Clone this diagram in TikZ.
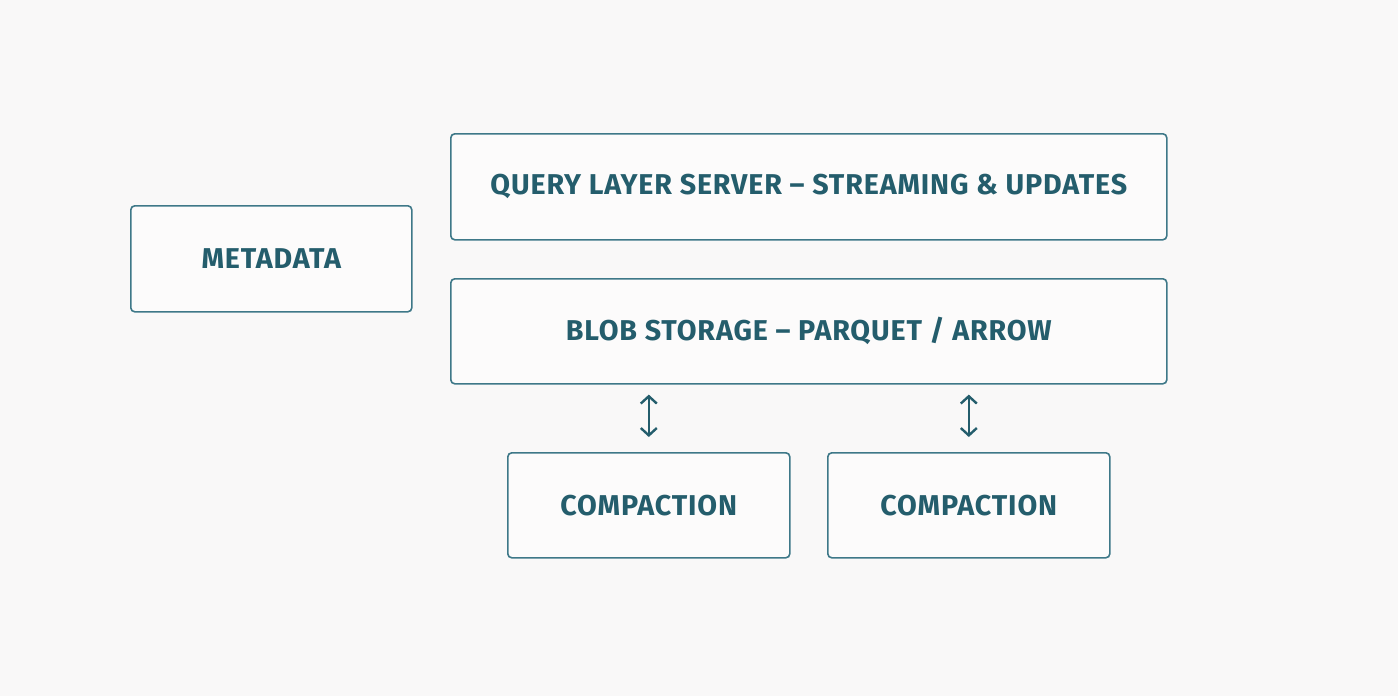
\documentclass[tikz,border=0pt]{standalone}
\usepackage{fontspec}
\setmainfont{Fira Sans}[LetterSpace=3]
\usetikzlibrary{arrows.meta}
\definecolor{bg}{HTML}{F9F8F8}
\definecolor{boxfill}{HTML}{FCFBFB}
\definecolor{edge}{HTML}{3E7888}
\definecolor{ink}{HTML}{245D6C}
\tikzset{
  box/.style={draw=edge, fill=boxfill, line width=1.2pt, rounded corners=3pt,
    text=ink, font=\fontsize{21.5}{24}\selectfont\bfseries, inner sep=0pt, anchor=north west},
  link/.style={draw=ink, line width=1.8pt, {Straight Barb[length=5.5pt,width=12pt,line width=1.8pt]}-{Straight Barb[length=5.5pt,width=12pt,line width=1.8pt]}}
}
\begin{document}
\begin{tikzpicture}[x=0.75pt,y=-0.75pt]
\fill[bg] (0,0) rectangle (1398,696);
\useasboundingbox (0,0) rectangle (1398,696);
\node[box, minimum width=716*0.75pt, minimum height=106*0.75pt] (query) at (450,133) {QUERY LAYER SERVER – STREAMING \& UPDATES};
\node[box, minimum width=281*0.75pt, minimum height=106*0.75pt] (meta) at (130,205) {METADATA};
\node[box, minimum width=716*0.75pt, minimum height=105*0.75pt] (blob) at (450,278) {BLOB STORAGE – PARQUET / ARROW};
\node[box, minimum width=282*0.75pt, minimum height=105*0.75pt] (c1) at (507,452) {COMPACTION};
\node[box, minimum width=282*0.75pt, minimum height=105*0.75pt] (c2) at (827,452) {COMPACTION};
\draw[link, shorten <=15*0.75pt, shorten >=10*0.75pt] (c1.north) -- (c1.north |- blob.south);
\draw[link, shorten <=15*0.75pt, shorten >=10*0.75pt] (c2.north) -- (c2.north |- blob.south);
\end{tikzpicture}
\end{document}
